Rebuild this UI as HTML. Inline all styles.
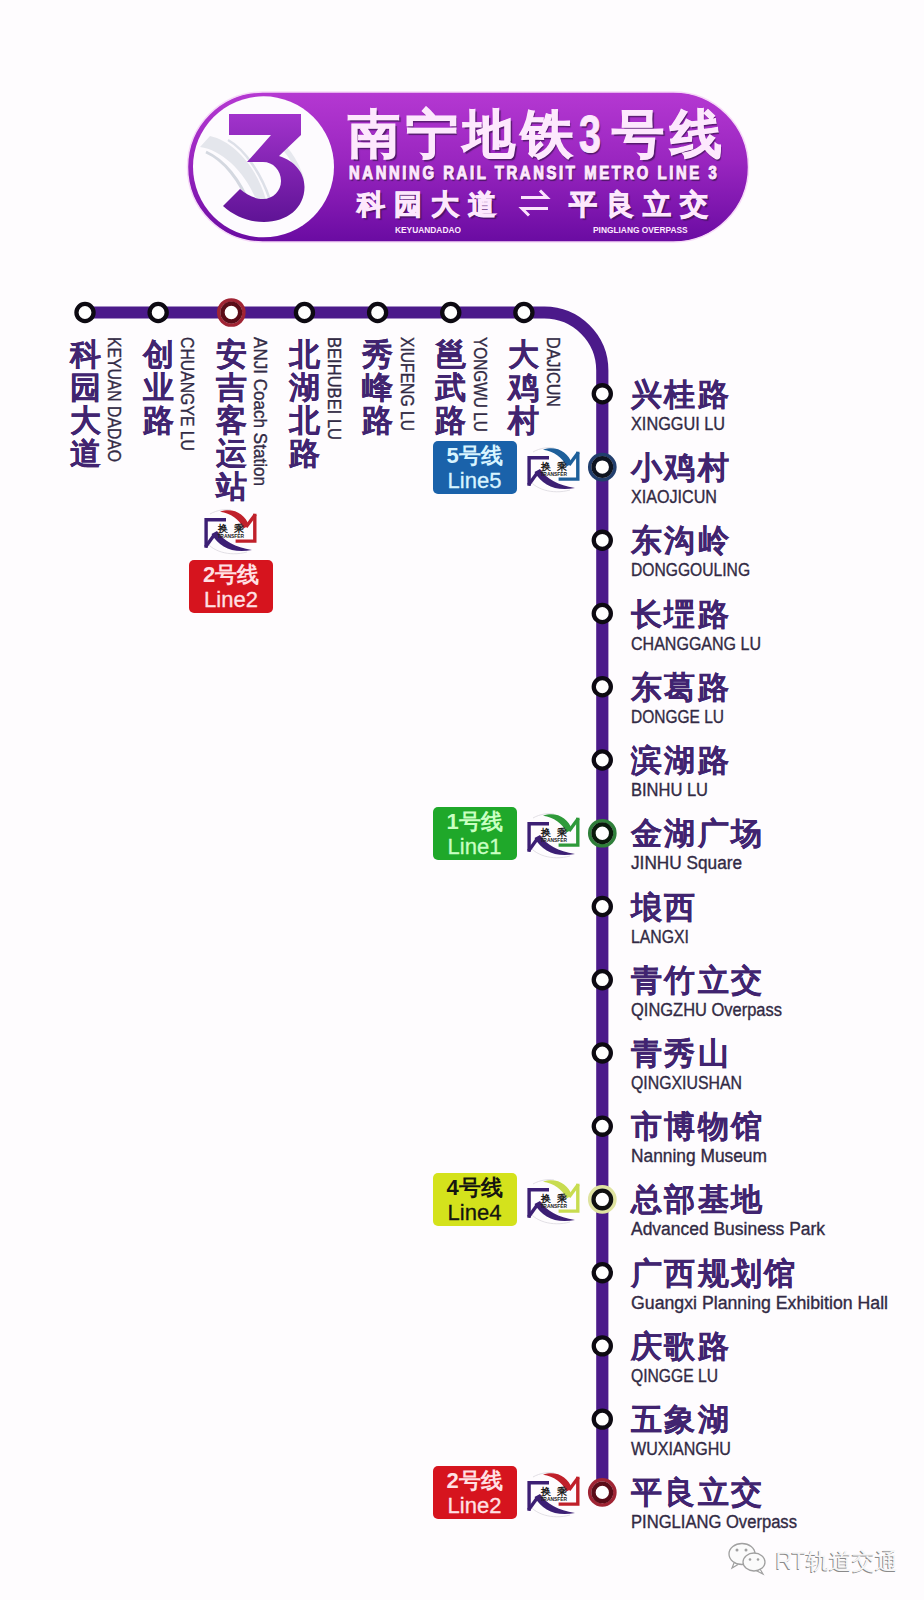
<!DOCTYPE html><html><head><meta charset="utf-8"><style>
html,body{margin:0;padding:0;}
body{width:924px;height:1600px;background:#fefcfe;position:relative;overflow:hidden;font-family:"Liberation Sans",sans-serif;}
.a{position:absolute;white-space:nowrap;}
.cn{font-weight:bold;color:#412470;font-size:31px;line-height:32px;letter-spacing:2.3px;-webkit-text-stroke:0.15px #412470;}
.en{-webkit-text-stroke:0.35px #322a44;color:#322a44;font-size:17.6px;line-height:19px;transform-origin:0 0;}
.vcn{-webkit-text-stroke:0.15px #412470;font-weight:bold;color:#412470;font-size:31px;line-height:33.2px;width:32px;white-space:normal;word-break:break-all;}
.ven{-webkit-text-stroke:0.35px #322a44;color:#322a44;font-size:17.6px;line-height:19px;transform-origin:0 0;}
.badge{position:absolute;width:84px;height:53px;border-radius:5px;text-align:center;}
.badge .b1{position:absolute;left:0;right:0;top:3px;font-size:22px;line-height:24px;font-weight:bold;}
.badge .b2{position:absolute;left:0;right:0;top:28px;font-size:22px;line-height:24px;-webkit-text-stroke:0.3px currentColor;}
</style></head><body>

<svg class="a" style="left:0;top:0" width="924" height="1600" viewBox="0 0 924 1600"><path d="M85.0,312.5 L544.3,312.5 A58,58 0 0 1 602.3,370.5 L602.3,1492.3999999999999" fill="none" stroke="#4b1a8a" stroke-width="12.2"/><circle cx="85.0" cy="312.5" r="8.55" fill="#fff" stroke="#0d0a12" stroke-width="4.3"/><circle cx="158.15" cy="312.5" r="8.55" fill="#fff" stroke="#0d0a12" stroke-width="4.3"/><circle cx="231.3" cy="312.5" r="12.6" fill="#fff" stroke="#a02434" stroke-width="3.5"/><circle cx="231.3" cy="312.5" r="8.8" fill="#fff" stroke="#5a0c18" stroke-width="4.3"/><circle cx="304.45000000000005" cy="312.5" r="8.55" fill="#fff" stroke="#0d0a12" stroke-width="4.3"/><circle cx="377.6" cy="312.5" r="8.55" fill="#fff" stroke="#0d0a12" stroke-width="4.3"/><circle cx="450.75" cy="312.5" r="8.55" fill="#fff" stroke="#0d0a12" stroke-width="4.3"/><circle cx="523.9000000000001" cy="312.5" r="8.55" fill="#fff" stroke="#0d0a12" stroke-width="4.3"/><circle cx="602.3" cy="393.8" r="8.55" fill="#fff" stroke="#0d0a12" stroke-width="4.3"/><circle cx="602.3" cy="467.04" r="12.6" fill="#fff" stroke="#223f6e" stroke-width="3.5"/><circle cx="602.3" cy="467.04" r="8.8" fill="#fff" stroke="#0e1420" stroke-width="4.3"/><circle cx="602.3" cy="540.28" r="8.55" fill="#fff" stroke="#0d0a12" stroke-width="4.3"/><circle cx="602.3" cy="613.52" r="8.55" fill="#fff" stroke="#0d0a12" stroke-width="4.3"/><circle cx="602.3" cy="686.76" r="8.55" fill="#fff" stroke="#0d0a12" stroke-width="4.3"/><circle cx="602.3" cy="760.0" r="8.55" fill="#fff" stroke="#0d0a12" stroke-width="4.3"/><circle cx="602.3" cy="833.24" r="12.6" fill="#fff" stroke="#2f7f3a" stroke-width="3.5"/><circle cx="602.3" cy="833.24" r="8.8" fill="#fff" stroke="#0a1a0c" stroke-width="4.3"/><circle cx="602.3" cy="906.48" r="8.55" fill="#fff" stroke="#0d0a12" stroke-width="4.3"/><circle cx="602.3" cy="979.72" r="8.55" fill="#fff" stroke="#0d0a12" stroke-width="4.3"/><circle cx="602.3" cy="1052.96" r="8.55" fill="#fff" stroke="#0d0a12" stroke-width="4.3"/><circle cx="602.3" cy="1126.2" r="8.55" fill="#fff" stroke="#0d0a12" stroke-width="4.3"/><circle cx="602.3" cy="1199.44" r="12.6" fill="#fff" stroke="#dfe3a0" stroke-width="3.5"/><circle cx="602.3" cy="1199.44" r="8.8" fill="#fff" stroke="#101010" stroke-width="4.3"/><circle cx="602.3" cy="1272.6799999999998" r="8.55" fill="#fff" stroke="#0d0a12" stroke-width="4.3"/><circle cx="602.3" cy="1345.9199999999998" r="8.55" fill="#fff" stroke="#0d0a12" stroke-width="4.3"/><circle cx="602.3" cy="1419.1599999999999" r="8.55" fill="#fff" stroke="#0d0a12" stroke-width="4.3"/><circle cx="602.3" cy="1492.3999999999999" r="12.6" fill="#fff" stroke="#a02434" stroke-width="3.5"/><circle cx="602.3" cy="1492.3999999999999" r="8.8" fill="#fff" stroke="#5a0c18" stroke-width="4.3"/></svg>
<div class="a cn" style="left:631px;top:378.8px">兴桂路</div>
<div class="a en" style="left:631px;top:414.8px;transform:scaleX(0.925)">XINGGUI LU</div>
<div class="a cn" style="left:631px;top:452.0px">小鸡村</div>
<div class="a en" style="left:631px;top:488.0px;transform:scaleX(0.916)">XIAOJICUN</div>
<div class="a cn" style="left:631px;top:525.3px">东沟岭</div>
<div class="a en" style="left:631px;top:561.3px;transform:scaleX(0.889)">DONGGOULING</div>
<div class="a cn" style="left:631px;top:598.5px">长堽路</div>
<div class="a en" style="left:631px;top:634.5px;transform:scaleX(0.911)">CHANGGANG LU</div>
<div class="a cn" style="left:631px;top:671.8px">东葛路</div>
<div class="a en" style="left:631px;top:707.8px;transform:scaleX(0.881)">DONGGE LU</div>
<div class="a cn" style="left:631px;top:745.0px">滨湖路</div>
<div class="a en" style="left:631px;top:781.0px;transform:scaleX(0.938)">BINHU LU</div>
<div class="a cn" style="left:631px;top:818.2px">金湖广场</div>
<div class="a en" style="left:631px;top:854.2px;transform:scaleX(0.979)">JINHU Square</div>
<div class="a cn" style="left:631px;top:891.5px">埌西</div>
<div class="a en" style="left:631px;top:927.5px;transform:scaleX(0.899)">LANGXI</div>
<div class="a cn" style="left:631px;top:964.7px">青竹立交</div>
<div class="a en" style="left:631px;top:1000.7px;transform:scaleX(0.936)">QINGZHU Overpass</div>
<div class="a cn" style="left:631px;top:1038.0px">青秀山</div>
<div class="a en" style="left:631px;top:1074.0px;transform:scaleX(0.901)">QINGXIUSHAN</div>
<div class="a cn" style="left:631px;top:1111.2px">市博物馆</div>
<div class="a en" style="left:631px;top:1147.2px;transform:scaleX(0.986)">Nanning Museum</div>
<div class="a cn" style="left:631px;top:1184.4px">总部基地</div>
<div class="a en" style="left:631px;top:1220.4px;transform:scaleX(0.992)">Advanced Business Park</div>
<div class="a cn" style="left:631px;top:1257.7px">广西规划馆</div>
<div class="a en" style="left:631px;top:1293.7px;transform:scaleX(1.007)">Guangxi Planning Exhibition Hall</div>
<div class="a cn" style="left:631px;top:1330.9px">庆歌路</div>
<div class="a en" style="left:631px;top:1366.9px;transform:scaleX(0.890)">QINGGE LU</div>
<div class="a cn" style="left:631px;top:1404.2px">五象湖</div>
<div class="a en" style="left:631px;top:1440.2px;transform:scaleX(0.913)">WUXIANGHU</div>
<div class="a cn" style="left:631px;top:1477.4px">平良立交</div>
<div class="a en" style="left:631px;top:1513.4px;transform:scaleX(0.943)">PINGLIANG Overpass</div>
<div class="a vcn" style="left:69.5px;top:337.5px">科园大道</div>
<div class="a ven" style="left:123.0px;top:337px;transform:rotate(90deg) scaleX(0.894)">KEYUAN DADAO</div>
<div class="a vcn" style="left:142.7px;top:337.5px">创业路</div>
<div class="a ven" style="left:196.2px;top:337px;transform:rotate(90deg) scaleX(0.897)">CHUANGYE LU</div>
<div class="a vcn" style="left:215.8px;top:337.5px">安吉客运站</div>
<div class="a ven" style="left:269.3px;top:337px;transform:rotate(90deg) scaleX(0.970)">ANJI Coach Station</div>
<div class="a vcn" style="left:289.0px;top:337.5px">北湖北路</div>
<div class="a ven" style="left:342.5px;top:337px;transform:rotate(90deg) scaleX(0.941)">BEIHUBEI LU</div>
<div class="a vcn" style="left:362.1px;top:337.5px">秀峰路</div>
<div class="a ven" style="left:415.6px;top:337px;transform:rotate(90deg) scaleX(0.890)">XIUFENG LU</div>
<div class="a vcn" style="left:435.2px;top:337.5px">邕武路</div>
<div class="a ven" style="left:488.8px;top:337px;transform:rotate(90deg) scaleX(0.875)">YONGWU LU</div>
<div class="a vcn" style="left:508.4px;top:337.5px">大鸡村</div>
<div class="a ven" style="left:561.9px;top:337px;transform:rotate(90deg) scaleX(0.918)">DAJICUN</div>
<svg class="a" style="left:0;top:0" width="924" height="260" viewBox="0 0 924 260">
<defs>
<linearGradient id="hg" x1="0" y1="0" x2="0" y2="1">
<stop offset="0" stop-color="#b538d2"/><stop offset="0.45" stop-color="#9a26c0"/><stop offset="1" stop-color="#6a0ba2"/>
</linearGradient>
<linearGradient id="g3" x1="0" y1="0" x2="0" y2="1">
<stop offset="0" stop-color="#a233cc"/><stop offset="1" stop-color="#5f1396"/>
</linearGradient>
</defs>
<rect x="187.5" y="92" width="561" height="150" rx="75" fill="url(#hg)" stroke="#f6d8f8" stroke-width="1.5"/>
<circle cx="263.5" cy="166.8" r="70.5" fill="#fdfbfe"/>
<path d="M200,147 C222,150 246,172 258,204 L266,200 C258,170 236,142 210,136 Z" fill="#e4e6ec"/><path d="M206,152 C224,160 240,180 250,206" stroke="#d4d8e0" stroke-width="3" fill="none"/><path d="M228,140 C246,150 262,176 270,200" stroke="#dde0e8" stroke-width="2.5" fill="none"/>
<path d="M272,138 C286,146 296,162 302,180" stroke="#e6e8ee" stroke-width="5" fill="none"/>
<path d="M229,114 H301 V135 L279,156 C295,161 304.5,173 304.5,187 C304.5,208 287,222 264,222 C248,222 234,216 223,206 L240,189 C247,195 255,199 263,199 C273,199 281,191 281,181 C281,170 273,162 263,162 H247 L271,135 H229 Z" fill="url(#g3)"/>
<g stroke="#fbe4fc" stroke-width="3" fill="none" stroke-linecap="butt">
<path d="M521,197.5 H547 L540,190.5"/><path d="M548,208.5 H522 L529,215.5"/>
</g>
</svg>
<div class="a" style="left:348px;top:106px;font-size:52px;line-height:56px;font-weight:bold;letter-spacing:5.6px;text-shadow:1.5px 1.8px 1px rgba(60,20,80,0.75);color:#fde8fd;-webkit-text-stroke:1px #fde8fd;">南宁地铁</div>
<div class="a" style="left:579px;top:106px;font-size:52px;line-height:56px;font-weight:bold;transform:scaleX(0.76);transform-origin:0 0;text-shadow:1.5px 1.8px 1px rgba(60,20,80,0.75);color:#fde8fd;-webkit-text-stroke:1px #fde8fd;">3</div>
<div class="a" style="left:612px;top:106px;font-size:52px;line-height:56px;font-weight:bold;letter-spacing:5.6px;text-shadow:1.5px 1.8px 1px rgba(60,20,80,0.75);color:#fde8fd;-webkit-text-stroke:1px #fde8fd;">号线</div>
<div class="a" style="left:349px;top:164px;font-size:17.5px;line-height:18px;font-weight:bold;letter-spacing:3.05px;transform:scaleX(0.85);transform-origin:0 0;text-shadow:1.5px 1.8px 1px rgba(60,20,80,0.75);color:#fde8fd;-webkit-text-stroke:1px #fde8fd;">NANNING RAIL TRANSIT METRO LINE 3</div>
<div class="a" style="left:357px;top:189.5px;font-size:28px;line-height:30px;font-weight:bold;letter-spacing:9px;text-shadow:1.5px 1.8px 1px rgba(60,20,80,0.75);color:#fde8fd;-webkit-text-stroke:1px #fde8fd;">科园大道</div>
<div class="a" style="left:569px;top:189.5px;font-size:28px;line-height:30px;font-weight:bold;letter-spacing:9px;text-shadow:1.5px 1.8px 1px rgba(60,20,80,0.75);color:#fde8fd;-webkit-text-stroke:1px #fde8fd;">平良立交</div>
<div class="a" style="left:395px;top:225px;font-size:9.5px;line-height:10px;font-weight:bold;color:#fde8fd;transform:scaleX(0.88);transform-origin:0 0">KEYUANDADAO</div>
<div class="a" style="left:593px;top:225px;font-size:9.5px;line-height:10px;font-weight:bold;color:#fde8fd;transform:scaleX(0.88);transform-origin:0 0">PINGLIANG OVERPASS</div>
<div class="badge" style="left:432.5px;top:440.5px;background:#1a62aa;color:#d8f4ff"><div class="b1">5号线</div><div class="b2">Line5</div></div>
<svg class="a" style="left:519.6px;top:444.5px" width="70" height="50" viewBox="0 0 70 50"><path d="M8,33 C14,44 32,50 50,45" stroke="#d6d2da" stroke-width="0.7" fill="none"/><path d="M13,7 C20,3 28,2 34,3" stroke="#d6d2da" stroke-width="0.7" fill="none"/><path d="M29,12.7 H9.1 V40.8" stroke="#3c1f74" stroke-width="3.4" fill="none"/><path d="M8.5,40 L17.5,27.5" stroke="#3c1f74" stroke-width="3.4" fill="none"/><path d="M14.5,27 C22,40 36,47 55,43 C38,40 27,34.5 20,24 Z" fill="#3c1f74"/><path d="M38.6,34.1 H57.8 V6.8" stroke="#1e5f9a" stroke-width="3.4" fill="none"/><path d="M58.3,7.5 L49,20" stroke="#1e5f9a" stroke-width="3.4" fill="none"/><path d="M23,4.8 C36,0 48,7 52,18.5 L46.5,21.5 C42,12 34,6.5 23,4.8 Z" fill="#1e5f9a"/><text x="20.5" y="24.6" font-family="Liberation Sans" font-size="10" font-weight="bold" fill="#1a1a1a">换</text><text x="37" y="24.6" font-family="Liberation Sans" font-size="10" font-weight="bold" fill="#1a1a1a">乘</text><text x="20.4" y="30.7" font-family="Liberation Sans" font-size="4.6" font-weight="bold" fill="#1a1a1a" textLength="26.6" lengthAdjust="spacingAndGlyphs">TRANSFER</text></svg>
<div class="badge" style="left:432.5px;top:806.7px;background:#1fa82a;color:#c9ffc2"><div class="b1">1号线</div><div class="b2">Line1</div></div>
<svg class="a" style="left:519.6px;top:810.7px" width="70" height="50" viewBox="0 0 70 50"><path d="M8,33 C14,44 32,50 50,45" stroke="#d6d2da" stroke-width="0.7" fill="none"/><path d="M13,7 C20,3 28,2 34,3" stroke="#d6d2da" stroke-width="0.7" fill="none"/><path d="M29,12.7 H9.1 V40.8" stroke="#3c1f74" stroke-width="3.4" fill="none"/><path d="M8.5,40 L17.5,27.5" stroke="#3c1f74" stroke-width="3.4" fill="none"/><path d="M14.5,27 C22,40 36,47 55,43 C38,40 27,34.5 20,24 Z" fill="#3c1f74"/><path d="M38.6,34.1 H57.8 V6.8" stroke="#2f9a3a" stroke-width="3.4" fill="none"/><path d="M58.3,7.5 L49,20" stroke="#2f9a3a" stroke-width="3.4" fill="none"/><path d="M23,4.8 C36,0 48,7 52,18.5 L46.5,21.5 C42,12 34,6.5 23,4.8 Z" fill="#2f9a3a"/><text x="20.5" y="24.6" font-family="Liberation Sans" font-size="10" font-weight="bold" fill="#1a1a1a">换</text><text x="37" y="24.6" font-family="Liberation Sans" font-size="10" font-weight="bold" fill="#1a1a1a">乘</text><text x="20.4" y="30.7" font-family="Liberation Sans" font-size="4.6" font-weight="bold" fill="#1a1a1a" textLength="26.6" lengthAdjust="spacingAndGlyphs">TRANSFER</text></svg>
<div class="badge" style="left:432.5px;top:1172.9px;background:#d4e21c;color:#151510"><div class="b1">4号线</div><div class="b2">Line4</div></div>
<svg class="a" style="left:519.6px;top:1176.9px" width="70" height="50" viewBox="0 0 70 50"><path d="M8,33 C14,44 32,50 50,45" stroke="#d6d2da" stroke-width="0.7" fill="none"/><path d="M13,7 C20,3 28,2 34,3" stroke="#d6d2da" stroke-width="0.7" fill="none"/><path d="M29,12.7 H9.1 V40.8" stroke="#3c1f74" stroke-width="3.4" fill="none"/><path d="M8.5,40 L17.5,27.5" stroke="#3c1f74" stroke-width="3.4" fill="none"/><path d="M14.5,27 C22,40 36,47 55,43 C38,40 27,34.5 20,24 Z" fill="#3c1f74"/><path d="M38.6,34.1 H57.8 V6.8" stroke="#c8dc50" stroke-width="3.4" fill="none"/><path d="M58.3,7.5 L49,20" stroke="#c8dc50" stroke-width="3.4" fill="none"/><path d="M23,4.8 C36,0 48,7 52,18.5 L46.5,21.5 C42,12 34,6.5 23,4.8 Z" fill="#c8dc50"/><text x="20.5" y="24.6" font-family="Liberation Sans" font-size="10" font-weight="bold" fill="#1a1a1a">换</text><text x="37" y="24.6" font-family="Liberation Sans" font-size="10" font-weight="bold" fill="#1a1a1a">乘</text><text x="20.4" y="30.7" font-family="Liberation Sans" font-size="4.6" font-weight="bold" fill="#1a1a1a" textLength="26.6" lengthAdjust="spacingAndGlyphs">TRANSFER</text></svg>
<div class="badge" style="left:432.5px;top:1465.9px;background:#d6141e;color:#ffe0e4"><div class="b1">2号线</div><div class="b2">Line2</div></div>
<svg class="a" style="left:519.6px;top:1469.9px" width="70" height="50" viewBox="0 0 70 50"><path d="M8,33 C14,44 32,50 50,45" stroke="#d6d2da" stroke-width="0.7" fill="none"/><path d="M13,7 C20,3 28,2 34,3" stroke="#d6d2da" stroke-width="0.7" fill="none"/><path d="M29,12.7 H9.1 V40.8" stroke="#3c1f74" stroke-width="3.4" fill="none"/><path d="M8.5,40 L17.5,27.5" stroke="#3c1f74" stroke-width="3.4" fill="none"/><path d="M14.5,27 C22,40 36,47 55,43 C38,40 27,34.5 20,24 Z" fill="#3c1f74"/><path d="M38.6,34.1 H57.8 V6.8" stroke="#c0202a" stroke-width="3.4" fill="none"/><path d="M58.3,7.5 L49,20" stroke="#c0202a" stroke-width="3.4" fill="none"/><path d="M23,4.8 C36,0 48,7 52,18.5 L46.5,21.5 C42,12 34,6.5 23,4.8 Z" fill="#c0202a"/><text x="20.5" y="24.6" font-family="Liberation Sans" font-size="10" font-weight="bold" fill="#1a1a1a">换</text><text x="37" y="24.6" font-family="Liberation Sans" font-size="10" font-weight="bold" fill="#1a1a1a">乘</text><text x="20.4" y="30.7" font-family="Liberation Sans" font-size="4.6" font-weight="bold" fill="#1a1a1a" textLength="26.6" lengthAdjust="spacingAndGlyphs">TRANSFER</text></svg>
<div class="badge" style="left:189.0px;top:559.5px;background:#d6141e;color:#ffe0e4"><div class="b1">2号线</div><div class="b2">Line2</div></div>
<svg class="a" style="left:196.5px;top:506.6px" width="70" height="50" viewBox="0 0 70 50"><path d="M8,33 C14,44 32,50 50,45" stroke="#d6d2da" stroke-width="0.7" fill="none"/><path d="M13,7 C20,3 28,2 34,3" stroke="#d6d2da" stroke-width="0.7" fill="none"/><path d="M29,12.7 H9.1 V40.8" stroke="#3c1f74" stroke-width="3.4" fill="none"/><path d="M8.5,40 L17.5,27.5" stroke="#3c1f74" stroke-width="3.4" fill="none"/><path d="M14.5,27 C22,40 36,47 55,43 C38,40 27,34.5 20,24 Z" fill="#3c1f74"/><path d="M38.6,34.1 H57.8 V6.8" stroke="#c0202a" stroke-width="3.4" fill="none"/><path d="M58.3,7.5 L49,20" stroke="#c0202a" stroke-width="3.4" fill="none"/><path d="M23,4.8 C36,0 48,7 52,18.5 L46.5,21.5 C42,12 34,6.5 23,4.8 Z" fill="#c0202a"/><text x="20.5" y="24.6" font-family="Liberation Sans" font-size="10" font-weight="bold" fill="#1a1a1a">换</text><text x="37" y="24.6" font-family="Liberation Sans" font-size="10" font-weight="bold" fill="#1a1a1a">乘</text><text x="20.4" y="30.7" font-family="Liberation Sans" font-size="4.6" font-weight="bold" fill="#1a1a1a" textLength="26.6" lengthAdjust="spacingAndGlyphs">TRANSFER</text></svg>
<svg class="a" style="left:726px;top:1541px" width="46" height="36" viewBox="0 0 46 36"><path d="M8,22 L6,27 L12,23.5" fill="#fff" stroke="#a0a0a0" stroke-width="1.2"/><ellipse cx="16" cy="13" rx="13" ry="10.5" fill="#fbfbfb" stroke="#a0a0a0" stroke-width="1.3"/><path d="M34,28 L37,33 L30,29.5" fill="#fff" stroke="#a0a0a0" stroke-width="1.2"/><ellipse cx="28" cy="21" rx="11" ry="9" fill="#fbfbfb" stroke="#a0a0a0" stroke-width="1.3"/><circle cx="11" cy="9" r="1.5" fill="#a0a0a0"/><circle cx="20" cy="9" r="1.5" fill="#a0a0a0"/><circle cx="24" cy="18.5" r="1.3" fill="#a0a0a0"/><circle cx="32" cy="18.5" r="1.3" fill="#a0a0a0"/></svg>
<div class="a" style="left:775.5px;top:1548px;font-size:23px;line-height:26px;color:#f6f6f6;text-shadow:-1px 1px 0.6px #8a8a8a">RT轨道交通</div>
</body></html>
